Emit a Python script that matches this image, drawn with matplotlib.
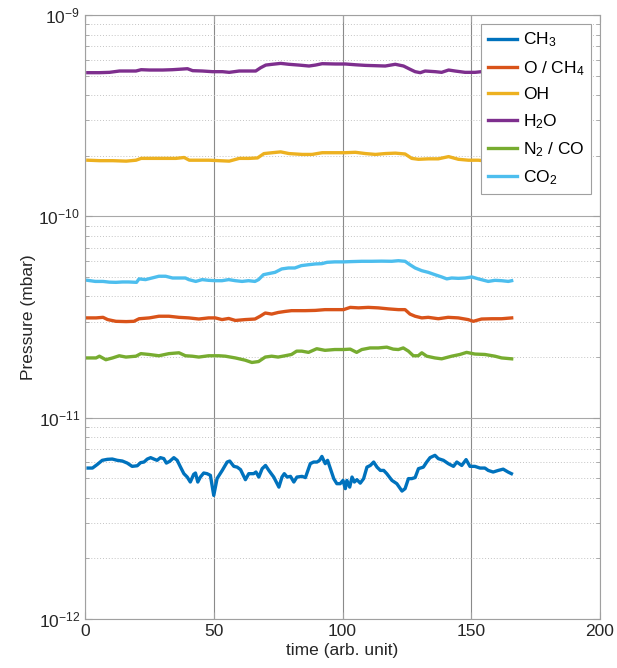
import matplotlib
matplotlib.use("Agg")
import matplotlib.pyplot as plt
import numpy as np
from matplotlib.ticker import LogLocator, NullFormatter

plt.rcParams['font.family'] = ['Liberation Sans', 'DejaVu Sans']
plt.rcParams['mathtext.fontset'] = 'custom'
plt.rcParams['mathtext.rm'] = 'Liberation Sans'
plt.rcParams['mathtext.it'] = 'Liberation Sans:italic'
plt.rcParams['mathtext.bf'] = 'Liberation Sans:bold'

# ---- data (time in arb. units, pressure in mbar) ----
ch3_t = [1.2, 2.9, 4.8, 6.7, 8.7, 10.6, 12.5, 14.5, 16.4, 18.3, 20.3, 21.6, 22.9, 24.2, 25.5, 27, 28, 29.3,
         30.6, 31.6, 32.9, 34.5, 35.8, 37.1, 38.4, 39.7, 40.9, 42.2, 42.9, 43.8, 44.8, 46.1, 47.4, 48.7, 50,
         51.3, 53.3, 55.2, 56.2, 57.8, 59.1, 60.4, 62.3, 63.6, 65.5, 66.4, 67.5, 68.8, 70.1, 71.4, 73.3, 75.3,
         76.5, 77.4, 78.5, 79.8, 81.1, 82.3, 84.3, 85.6, 87.5, 88.8, 90.1, 91.1, 92, 93.3, 94.2, 95.3, 96.6,
         97.8, 99.1, 100.2, 101.1, 101.7, 102.8, 103.7, 104.6, 105.6, 106.9, 108.2, 109.5, 110.8, 112.1,
         113.4, 114.7, 116, 117.2, 119.2, 121.1, 123.1, 124.3, 125.6, 126.9, 128.2, 129.5, 131.4, 132.7,
         134, 135.9, 137.2, 139.2, 141.1, 143.1, 144.4, 146.3, 148, 149.5, 151.4, 153.4, 155.3, 156.6,
         158.5, 160.5, 162.4, 164.3, 165.6]
ch3_v = [5.62, 5.62, 5.86, 6.14, 6.21, 6.23, 6.14, 6.09, 5.95, 5.73, 5.77, 5.98, 6.02, 6.23, 6.33, 6.21, 6.14, 6.33,
         6.26, 5.95, 6.07, 6.33, 6.14, 5.68, 5.27, 5.07, 4.79, 5.23, 5.31, 4.79, 5.07, 5.31, 5.27, 5.17, 4.11,
         4.99, 5.47, 6.02, 6.09, 5.73, 5.68, 5.52, 4.92, 5.27, 5.27, 5.37, 5.07, 5.58, 5.79, 5.47, 5.07, 4.52,
         5.07, 5.27, 5.07, 5.11, 4.79, 5.07, 5.11, 5.04, 5.91, 6.02, 6.02, 6.14, 6.42, 5.91, 6.14, 5.58, 4.98,
         4.70, 4.70, 4.88, 4.44, 4.88, 4.52, 5.07, 4.79, 4.92, 4.73, 4.98, 5.68, 5.79, 6.02,
         5.68, 5.47, 5.47, 5.27, 4.88, 4.70, 4.32, 4.44, 4.98, 4.98, 5.04, 5.58, 5.68, 6.02,
         6.33, 6.50, 6.26, 6.14, 5.91, 5.73, 6.02, 5.79, 6.19, 5.73, 5.73, 5.62, 5.62, 5.47,
         5.37, 5.47, 5.55, 5.37, 5.27]  # x 1e-12

o_ch4_t = [1, 4.3, 7, 8.8, 12, 16, 19, 21, 25, 28.7, 32.6, 36.5, 40.3, 44.2, 48, 50.6, 53.2, 55.8, 58.4, 62.2,
           66, 68, 70, 72.5, 75, 77.7, 80.2, 83, 85.5, 89.4, 93.2, 97, 100.4, 103, 106.2, 110, 113.9, 117.8,
           121.7, 124.3, 126.2, 128.2, 130.8, 133.3, 137.2, 141, 145, 148.8, 150.8, 154, 158, 161.8, 165.7]
o_ch4_v = [3.13, 3.13, 3.15, 3.07, 3.01, 3.00, 3.01, 3.10, 3.13, 3.19, 3.19, 3.15, 3.13, 3.09, 3.13, 3.13, 3.07,
           3.11, 3.04, 3.07, 3.09, 3.19, 3.31, 3.27, 3.33, 3.37, 3.40, 3.40, 3.40, 3.41, 3.44, 3.44, 3.44, 3.53,
           3.51, 3.53, 3.51, 3.47, 3.44, 3.44, 3.27, 3.19, 3.13, 3.15, 3.10, 3.15, 3.13, 3.07, 3.01, 3.09, 3.10,
           3.10, 3.13]  # x 1e-11

oh_t = [1.1, 5.6, 10.8, 16, 19.8, 21.8, 26.3, 31.4, 35.3, 38.5, 40.5, 44.4, 48.2, 52.1, 56, 59.9, 63.7, 67,
        69.5, 72.7, 76, 79.2, 84.4, 88.2, 92.1, 97.3, 101.1, 105, 108.9, 112.8, 116.6, 120.5, 124.3, 126.9,
        129.5, 133.4, 137.2, 141.2, 145, 148.9, 152.8, 156, 161, 166]
oh_v = [1.90, 1.89, 1.89, 1.88, 1.90, 1.94, 1.94, 1.94, 1.94, 1.96, 1.90, 1.90, 1.90, 1.89, 1.88, 1.94, 1.94, 1.95,
        2.05, 2.07, 2.09, 2.05, 2.03, 2.03, 2.07, 2.07, 2.07, 2.08, 2.05, 2.03, 2.05, 2.06, 2.04, 1.94,
        1.92, 1.93, 1.93, 1.98, 1.92, 1.90, 1.90, 1.88, 1.89, 1.89]  # x 1e-10

h2o_t = [1.1, 5.6, 9.5, 13.4, 17.3, 19.8, 21.8, 25, 30.2, 34, 37.9, 39.8, 41.8, 45.6, 49.5, 53.4, 56, 59.9,
         63.7, 66.3, 68.2, 70.2, 72.7, 76, 79.2, 83.1, 87, 89.5, 92.1, 97.3, 101.1, 105, 108.9, 112.8, 116.6,
         120.5, 123.7, 126.3, 128.2, 130.2, 132.1, 136, 138.5, 141.2, 143.7, 147.6, 151.5, 154, 156, 160, 166]
h2o_v = [5.17, 5.17, 5.19, 5.27, 5.27, 5.27, 5.35, 5.33, 5.33, 5.35, 5.39, 5.41, 5.29, 5.27, 5.23, 5.23, 5.19, 5.27,
         5.27, 5.27, 5.47, 5.64, 5.69, 5.75, 5.69, 5.64, 5.58, 5.64, 5.73, 5.71, 5.71, 5.66, 5.62, 5.60, 5.58,
         5.69, 5.58, 5.37, 5.23, 5.17, 5.27, 5.23, 5.19, 5.33, 5.27, 5.19, 5.19, 5.23, 5.19, 5.20, 5.20]  # x 1e-10

n2_co_t = [1, 4.3, 5.6, 8.1, 10.7, 13.3, 15.9, 19.8, 21.7, 24.9, 28.7, 32.6, 36.5, 39, 41.6, 44.2, 48, 52, 54.5,
           58.4, 62.2, 64.8, 67.4, 70, 72.5, 75, 77.7, 80.2, 82.2, 84.2, 86.8, 90, 93.2, 97, 100.4, 103, 105.5,
           107.5, 110.7, 113.9, 117.2, 119.7, 121.7, 123.6, 125.6, 127.5, 129.4, 130.8, 132.7, 135.9, 138.5,
           142.4, 145.6, 148.2, 151.4, 155.3, 159.2, 161.8, 165.7]
n2_co_v = [1.98, 1.98, 2.02, 1.94, 1.98, 2.03, 2.00, 2.02, 2.08, 2.06, 2.03, 2.08, 2.10, 2.03, 2.02, 2.00, 2.03,
           2.03, 2.02, 1.98, 1.93, 1.88, 1.90, 2.00, 2.02, 2.00, 2.03, 2.06, 2.14, 2.14, 2.11, 2.20, 2.16, 2.18,
           2.18, 2.19, 2.11, 2.18, 2.22, 2.22, 2.24, 2.19, 2.18, 2.22, 2.14, 2.03, 2.03, 2.10, 2.02, 1.98, 1.96,
           2.02, 2.06, 2.11, 2.07, 2.06, 2.02, 1.98, 1.96]  # x 1e-11

co2_t = [1, 4, 7, 9.5, 12, 14.5, 17, 20, 21, 23.5, 26, 28.7, 31.3, 34, 36.5, 39, 40.3, 43, 45.5, 48, 50.6, 53.2,
         55.8, 58.4, 61, 63.5, 66, 67.4, 69.3, 71.2, 73.8, 76.4, 79, 81.5, 84, 86.8, 89.4, 92, 94, 97, 100.4,
         103.6, 107.5, 111.3, 115.2, 119.1, 121.7, 124.3, 126.2, 128.2, 130.8, 133.3, 135.9, 138.5, 140.5,
         142.4, 145, 147.6, 150.2, 152.8, 156.6, 159.2, 161.8, 164.4, 165.7]
co2_v = [4.81, 4.75, 4.75, 4.71, 4.70, 4.72, 4.72, 4.70, 4.89, 4.85, 4.94, 5.04, 5.04, 4.94, 4.94, 4.94, 4.85,
         4.75, 4.85, 4.81, 4.79, 4.79, 4.85, 4.79, 4.75, 4.79, 4.75, 4.85, 5.13, 5.19, 5.27, 5.48, 5.54, 5.54,
         5.69, 5.75, 5.80, 5.82, 5.91, 5.94, 5.94, 5.96, 5.98, 5.98, 5.99, 5.98, 6.02, 5.98, 5.75, 5.54, 5.37,
         5.27, 5.13, 5.00, 4.89, 4.94, 4.92, 4.94, 5.00, 4.89, 4.75, 4.81, 4.79, 4.75, 4.79]  # x 1e-11

labels = ['CH$_3$', 'O / CH$_4$', 'OH', 'H$_2$O', 'N$_2$ / CO', 'CO$_2$']
colors = ['#0072BD', '#D95319', '#EDB120', '#7E2F8E', '#77AC30', '#4DBEEE']
series = [(ch3_t, ch3_v, 1e-12), (o_ch4_t, o_ch4_v, 1e-11), (oh_t, oh_v, 1e-10),
          (h2o_t, h2o_v, 1e-10), (n2_co_t, n2_co_v, 1e-11), (co2_t, co2_v, 1e-11)]

fig = plt.figure(figsize=(6.17, 6.68), dpi=100)
ax = fig.add_axes([85 / 617, 1 - 619 / 668, 515 / 617, 604 / 668])

for (t, v, s), lab, c in zip(series, labels, colors):
    ax.plot(t, np.array(v) * s, color=c, lw=2.4, label=lab, solid_joinstyle='round')

ax.set_yscale('log')
ax.set_xlim(0, 200)
ax.set_ylim(1e-12, 1e-9)
ax.set_xticks([0, 50, 100, 150, 200])
ax.yaxis.set_major_locator(LogLocator(base=10, numticks=10))
ax.yaxis.set_minor_locator(LogLocator(base=10, subs=np.arange(2, 10), numticks=20))
ax.yaxis.set_minor_formatter(NullFormatter())

ax.grid(True, which='major', axis='x', color='#8a8a8a', lw=0.8, ls='-')
ax.grid(True, which='major', axis='y', color='#a8a8a8', lw=0.8, ls='-')
ax.grid(True, which='minor', axis='y', color='#c4c4c4', lw=0.7, ls=(0, (1, 2)))
ax.set_axisbelow(True)

for sp in ax.spines.values():
    sp.set_color('#a0a0a0')
    sp.set_linewidth(0.8)

ax.tick_params(which='both', direction='in', top=True, right=True, colors='#a0a0a0',
               labelcolor='#262626', labelsize=12.5)
ax.tick_params(which='major', length=5)
ax.tick_params(which='minor', length=3)

ax.set_xlabel('time (arb. unit)', fontsize=12.5, color='#262626', labelpad=3)
ax.set_ylabel('Pressure (mbar)', fontsize=12.5, color='#262626', labelpad=2)

leg = ax.legend(loc='upper right', fontsize=12.5, frameon=True, fancybox=False, handlelength=1.7,
                handletextpad=0.3, labelspacing=0.55, borderpad=0.4, framealpha=1)
leg.get_frame().set_edgecolor('#a0a0a0')
leg.get_frame().set_linewidth(0.8)

fig.savefig('out.png', dpi=100)
